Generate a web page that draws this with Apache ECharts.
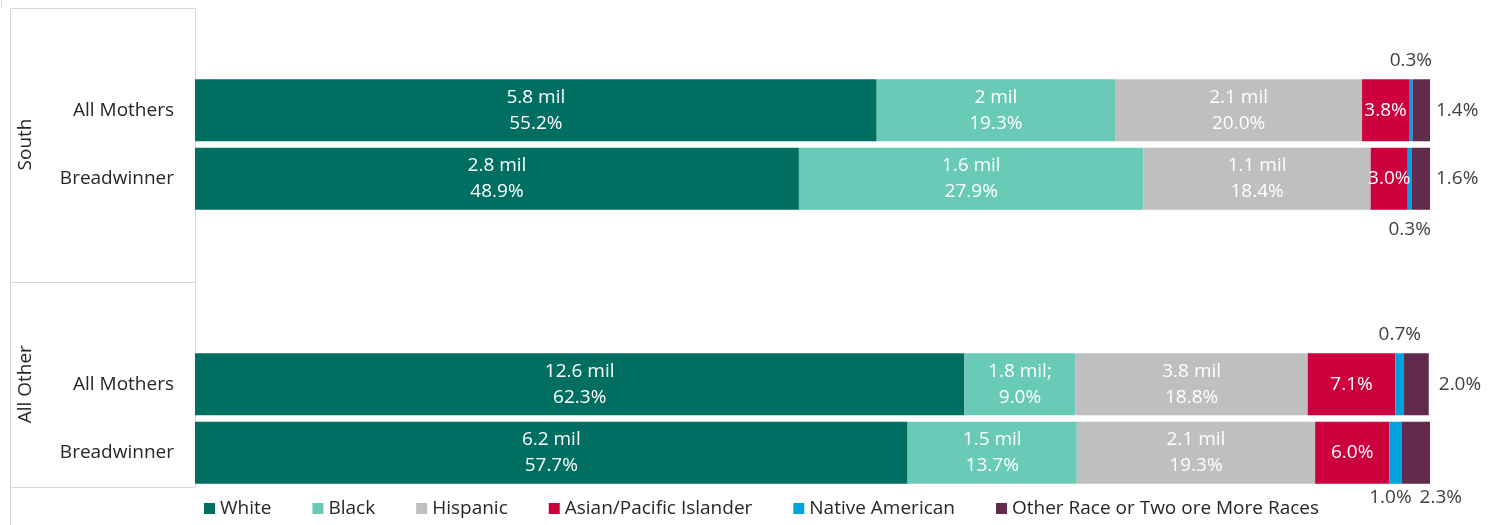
<!DOCTYPE html>
<html><head><meta charset="utf-8">
<script src="https://cdn.jsdelivr.net/npm/echarts@6/dist/echarts.min.js"></script>
<style>html,body{margin:0;padding:0;background:#fff}#c{width:1499px;height:525px}</style>
</head><body><div id="c"></div>
<script>
// Category slots (top to bottom), blanks are spacer slots of the multi-level axis
const categories = ['', 'All Mothers', 'Breadwinner', '', '', 'All Mothers', 'Breadwinner'];
const groups = ['South', 'All Other'];
const groupSpans = [[0, 4], [4, 7]];
const barSlots = [1, 2, 5, 6];
const seriesNames = ['White', 'Black', 'Hispanic', 'Asian/Pacific Islander', 'Native American', 'Other Race or Two ore More Races'];
const white = [55.2, 48.9, 62.3, 57.7];
const black = [19.3, 27.9, 9.0, 13.7];
const hispanic = [20.0, 18.4, 18.8, 19.3];
const asian = [3.8, 3.0, 7.1, 6.0];
const nativeAm = [0.3, 0.3, 0.7, 1.0];
const other = [1.4, 1.6, 2.0, 2.3];
const whiteMil = ['5.8 mil', '2.8 mil', '12.6 mil', '6.2 mil'];
const blackMil = ['2 mil', '1.6 mil', '1.8 mil;', '1.5 mil'];
const hispanicMil = ['2.1 mil', '1.1 mil', '3.8 mil', '2.1 mil'];

const colors = ['#006F61', '#6ACAB8', '#BFBFBF', '#CC003D', '#00A2DF', '#622A4D'];
const FONT = '"Open Sans", "Noto Sans", sans-serif';
const FS = 19;
const GRID = { left: 195, right: 69, top: 7.5, bottom: 38 };
const H = 525;

const values = [white, black, hispanic, asian, nativeAm, other];
const mils = [whiteMil, blackMil, hispanicMil, null, null, null];
const nativePos = ['top', 'bottom', 'top', 'bottom'];
const otherPos = ['right', 'right', 'right', 'bottom'];

function pct(v) { return v.toFixed(1) + '%'; }

const series = values.map((arr, si) => {
  const data = categories.map(() => '-');
  barSlots.forEach((slot, i) => {
    let label;
    if (si <= 2) {
      label = { show: true, position: 'inside', color: '#fff', formatter: mils[si][i] + '\n' + pct(arr[i]) };
    } else if (si === 3) {
      label = { show: true, position: 'inside', color: '#fff', formatter: pct(arr[i]) };
    } else if (si === 4) {
      const p = nativePos[i];
      label = { show: true, position: p, distance: p === 'bottom' ? (i === 3 ? 1 : 7) : 6, color: '#404040', formatter: pct(arr[i]), offset: i === 3 ? [-5, 0] : [0, 0] };
    } else {
      const p = otherPos[i];
      label = { show: true, position: p, distance: p === 'bottom' ? 1 : (i === 2 ? 10 : 6), color: '#404040', formatter: pct(arr[i]), offset: p === 'bottom' ? [25, 0] : [0, 0] };
    }
    data[slot] = { value: arr[i], label };
  });
  return {
    name: seriesNames[si],
    type: 'bar',
    stack: 'total',
    barCategoryGap: '9.5%',
    itemStyle: { color: colors[si] },
    label: { fontFamily: FONT, fontSize: FS, lineHeight: 26 },
    emphasis: { disabled: true },
    data
  };
});

const chart = echarts.init(document.getElementById('c'), null, { renderer: 'canvas' });

const slotH = (H - GRID.top - GRID.bottom) / categories.length;
const lineStyle = { stroke: '#D9D9D9', lineWidth: 1 };
const graphics = [];
const boxLeft = 10.5, boxRight = GRID.left - 0.5;
[0, 4, 7].forEach(k => {
  const y = Math.round(GRID.top + k * slotH) + 0.5;
  graphics.push({ type: 'line', shape: { x1: boxLeft, y1: y, x2: boxRight, y2: y }, style: lineStyle, silent: true });
});
graphics.push({ type: 'line', shape: { x1: boxLeft, y1: 8.5, x2: boxLeft, y2: H }, style: lineStyle, silent: true });
graphics.push({ type: 'line', shape: { x1: 1.5, y1: 0, x2: 1.5, y2: 8 }, style: lineStyle, silent: true });
groups.forEach((g, gi) => {
  const [a, b] = groupSpans[gi];
  const yc = GRID.top + (a + b) / 2 * slotH;
  graphics.push({
    type: 'text', x: 26, y: yc, rotation: Math.PI / 2, silent: true,
    style: { text: g, fill: '#262626', font: FS + 'px ' + FONT, textAlign: 'center', textVerticalAlign: 'middle' }
  });
});

chart.setOption({
  animation: false,
  backgroundColor: '#fff',
  color: colors,
  grid: { left: GRID.left, right: GRID.right, top: GRID.top, bottom: GRID.bottom, containLabel: false },
  xAxis: { type: 'value', min: 0, max: 100, show: false },
  yAxis: {
    type: 'category', inverse: true, data: categories,
    axisLine: { show: true, lineStyle: { color: '#D9D9D9' } },
    axisTick: { show: false },
    splitLine: { show: false },
    axisLabel: { margin: 21, fontFamily: FONT, fontSize: FS, color: '#262626' }
  },
  legend: {
    left: 199, top: 494, icon: 'rect', itemWidth: 11, itemHeight: 11, itemGap: 41,
    textStyle: { fontFamily: FONT, fontSize: FS, color: '#262626' },
    selectedMode: false,
    data: seriesNames
  },
  graphic: graphics,
  series
});
</script></body></html>
